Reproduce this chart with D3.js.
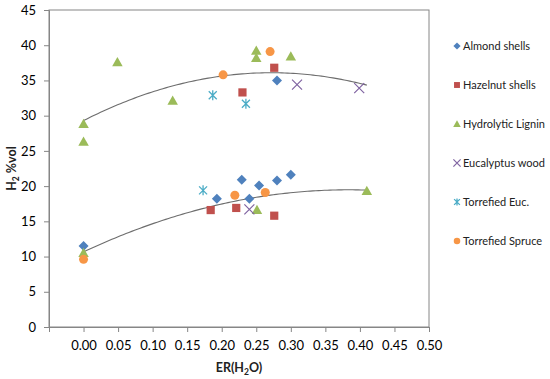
<!DOCTYPE html>
<html><head><meta charset="utf-8">
<script src="https://cdn.jsdelivr.net/npm/d3@7"></script>
<style>body{margin:0;background:#fff;} svg{display:block;font-family:Lato,"Open Sans",sans-serif;}</style>
</head><body><svg id="c" width="550" height="379"></svg>
<script>
const seriesNames = ["Almond shells","Hazelnut shells","Hydrolytic Lignin","Eucalyptus wood","Torrefied Euc.","Torrefied Spruce"];
const almondX = [0, 0.193, 0.229, 0.254, 0.240, 0.280, 0.300, 0.280];
const almondY = [11.5, 18.2, 20.9, 20.1, 18.2, 20.8, 21.6, 35.0];
const hazelX = [0.230, 0.276, 0.184, 0.221, 0.276];
const hazelY = [33.3, 36.8, 16.6, 16.9, 15.8];
const ligninX = [0, 0, 0.049, 0.129, 0.250, 0.250, 0.300, 0.251, 0.410, 0];
const ligninY = [28.8, 26.3, 37.6, 32.1, 39.2, 38.2, 38.4, 16.6, 19.3, 10.5];
const eucX = [0.309, 0.399, 0.240];
const eucY = [34.4, 33.9, 16.7];
const tEucX = [0.187, 0.235, 0.173];
const tEucY = [32.9, 31.7, 19.4];
const spruceX = [0.202, 0.270, 0, 0.219, 0.263];
const spruceY = [35.8, 39.1, 9.6, 18.7, 19.1];
// quadratic trendlines: [a, b, c] for y = a + b x + c x^2, over [xmin, xmax]
const trendUpper = [29.3, 50, -92];
const trendLower = [10.66, 46, -60];
const trendRange = [0, 0.41];
const xTicks = [0,0.05,0.1,0.15,0.2,0.25,0.3,0.35,0.4,0.45,0.5];
const yTicks = [0,5,10,15,20,25,30,35,40,45];

const colors = ["#4F81BD","#C0504D","#9BBB59","#8064A2","#4BACC6","#F79646"];
const shapes = ["diamond","square","triangle","x","star","circle"];
const xs = [almondX,hazelX,ligninX,eucX,tEucX,spruceX];
const ys = [almondY,hazelY,ligninY,eucY,tEucY,spruceY];

const svg = d3.select("#c");
const L=49,R=429,T=10,B=327;
const x = d3.scaleLinear().domain([-0.05,0.5]).range([L,R]);
const y = d3.scaleLinear().domain([0,45]).range([B,T]);
const axisCol="#868686";

// plot border
svg.append("rect").attr("x",L).attr("y",T).attr("width",R-L).attr("height",B-T)
  .attr("fill","none").attr("stroke",axisCol).attr("stroke-width",1);

const xa = svg.append("g").attr("transform",`translate(0,${B})`)
  .call(d3.axisBottom(x).tickValues([-0.05].concat(xTicks)).tickSize(5).tickPadding(9)
    .tickFormat(d=> d<0 ? "" : d3.format(".2f")(d)));
const ya = svg.append("g").attr("transform",`translate(${L},0)`)
  .call(d3.axisLeft(y).tickValues(yTicks).tickSize(5).tickPadding(8));
[xa,ya].forEach(a=>{
  a.select(".domain").attr("stroke",axisCol);
  a.selectAll(".tick line").attr("stroke",axisCol);
  a.selectAll("text").attr("fill","#000").style("font-size","13px").style("font-family","Lato,sans-serif");
});

// trendlines
function trend(co){
  const pts = d3.range(0,101).map(i=>{const xv=trendRange[0]+(trendRange[1]-trendRange[0])*i/100;return [xv, co[0]+co[1]*xv+co[2]*xv*xv];});
  return d3.line().x(d=>x(d[0])).y(d=>y(d[1]))(pts);
}
[trendUpper,trendLower].forEach(co=>svg.append("path").attr("d",trend(co)).attr("fill","none").attr("stroke","#6d6d6d").attr("stroke-width",1.1));

function marker(g, shape, color, s){
  if(shape==="diamond") g.append("path").attr("d",`M0,${-s}L${s},0L0,${s}L${-s},0Z`).attr("fill",color);
  else if(shape==="square") g.append("rect").attr("x",-s*0.82).attr("y",-s*0.82).attr("width",s*1.64).attr("height",s*1.64).attr("fill",color);
  else if(shape==="triangle") g.append("path").attr("d",`M0,${-s*1.05}L${s*1.05},${s*0.8}L${-s*1.05},${s*0.8}Z`).attr("fill",color);
  else if(shape==="circle") g.append("circle").attr("r",s*0.9).attr("fill",color);
  else if(shape==="x") g.append("path").attr("d",`M${-s},${-s}L${s},${s}M${-s},${s}L${s},${-s}`).attr("stroke",color).attr("stroke-width",1.2);
  else if(shape==="star") g.append("path").attr("d",`M${-s*0.8},${-s*0.8}L${s*0.8},${s*0.8}M${-s*0.8},${s*0.8}L${s*0.8},${-s*0.8}M0,${-s}L0,${s}`).attr("stroke",color).attr("stroke-width",1.3);
}
const plotOrder=[0,1,2,3,4,5];
plotOrder.forEach(i=>{
  xs[i].forEach((xv,j)=>{
    const g = svg.append("g").attr("transform",`translate(${x(xv)},${y(ys[i][j])})`);
    marker(g, shapes[i], colors[i], 5);
  });
});

// axis titles
const xt = svg.append("text").attr("x",(L+R)/2).attr("y",372).attr("text-anchor","middle")
  .style("font-size","12.5px").style("font-weight","bold").attr("fill","#222");
xt.append("tspan").text("ER(H");
xt.append("tspan").text("2").style("font-size","8.5px").attr("dy",3);
xt.append("tspan").text("O)").attr("dy",-3);
const yt = svg.append("text").attr("transform",`translate(16,${(T+B)/2}) rotate(-90)`).attr("text-anchor","middle")
  .style("font-size","12.5px").style("font-weight","bold").attr("fill","#222");
yt.append("tspan").text("H");
yt.append("tspan").text("2").style("font-size","8.5px").attr("dy",3);
yt.append("tspan").text(" %vol").attr("dy",-3);

// legend
seriesNames.forEach((n,i)=>{
  const yy = 46 + i*39;
  const g = svg.append("g").attr("transform",`translate(457,${yy})`);
  marker(g, shapes[i], colors[i], 3.6);
  svg.append("text").attr("x",463).attr("y",yy+4).text(n).style("font-size","11px").attr("fill","#222");
});
</script></body></html>
